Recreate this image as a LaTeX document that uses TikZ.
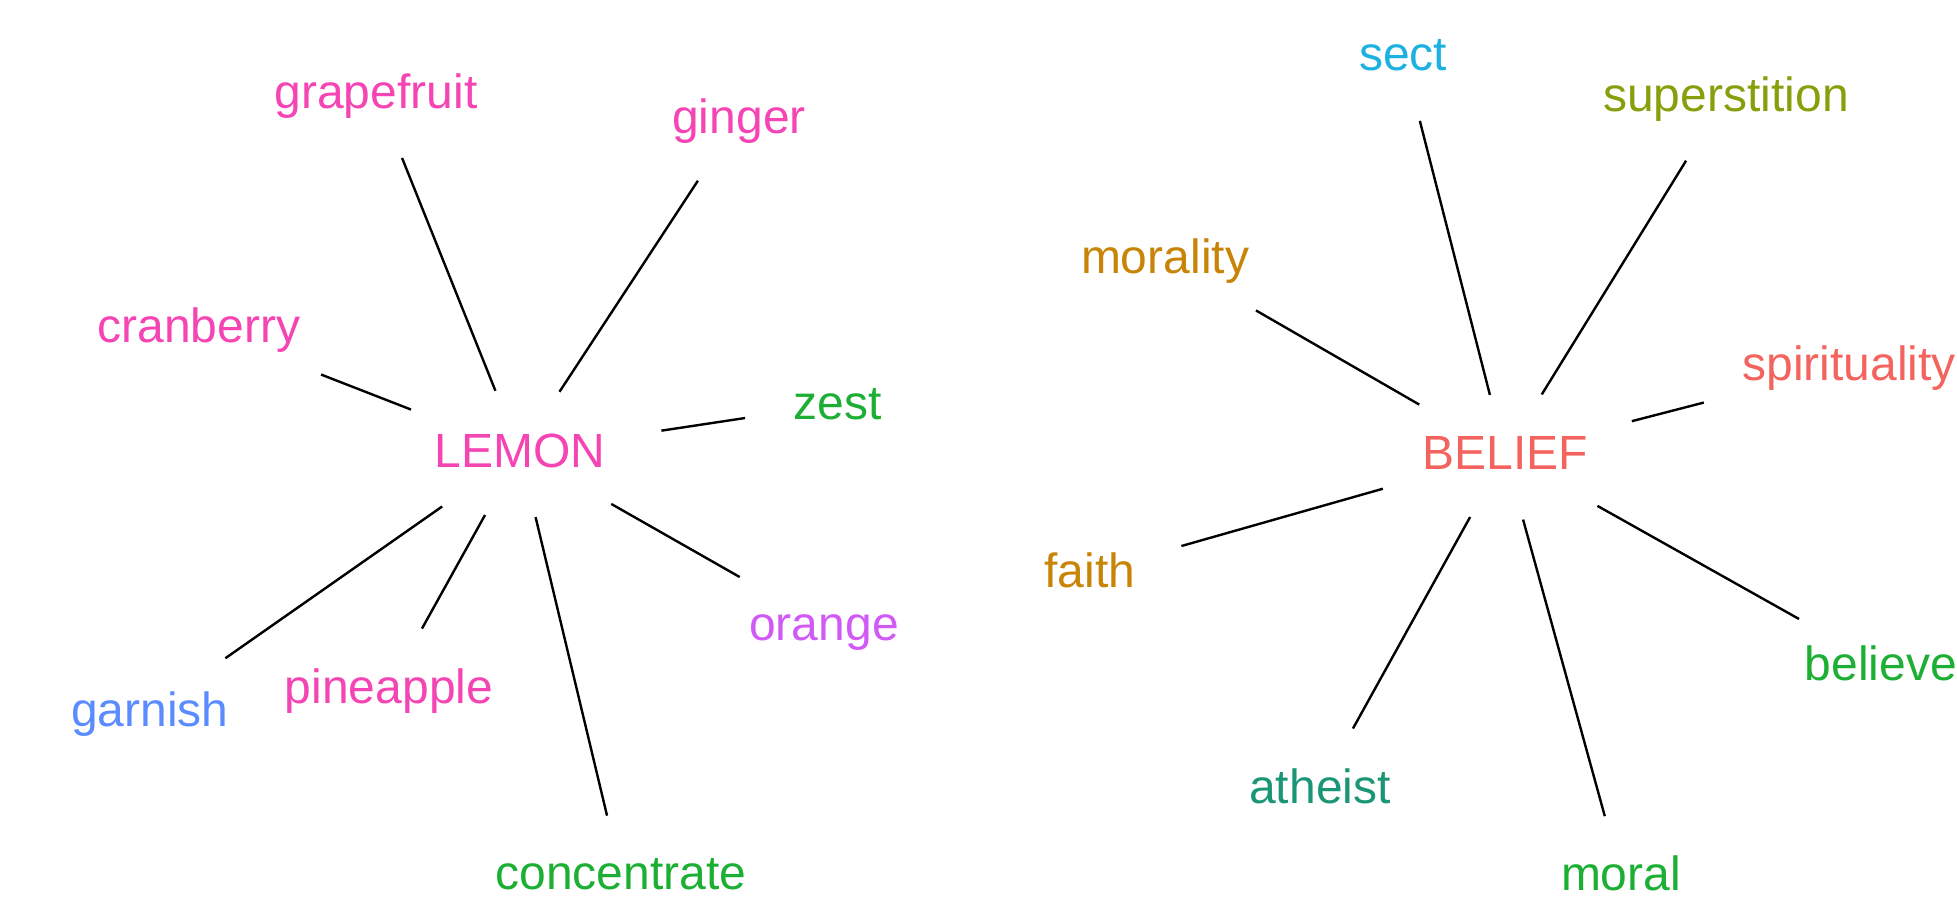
\documentclass[tikz,border=0pt]{standalone}
\usepackage{fontspec}
\setmainfont{Liberation Sans}
\definecolor{lemonpink}{HTML}{F544B3}
\definecolor{wordgreen}{HTML}{1CAF33}
\definecolor{wordpurple}{HTML}{D159F6}
\definecolor{wordblue}{HTML}{5B8CFF}
\definecolor{wordcyan}{HTML}{1DB1E2}
\definecolor{wordolive}{HTML}{879F0B}
\definecolor{wordochre}{HTML}{C78407}
\definecolor{wordsalmon}{HTML}{F4645E}
\definecolor{wordteal}{HTML}{1A9677}
\begin{document}
\begin{tikzpicture}[x=1pt, y=-1pt,
	every node/.style={inner sep=0pt, text height=35pt, text depth=5pt, font=\fontsize{48}{58}\selectfont},
	link/.style={line width=2.4pt, black}]
		\path[use as bounding box, clip] (0,0) rectangle (1957,905);
		% lemon
		\node[text=lemonpink] (lemon) at (520, 452) {LEMON};
		\node[text=lemonpink] (grapefruit) at (376, 93) {grapefruit};
		\node[text=lemonpink] (ginger) at (739, 118) {ginger};
		\node[text=lemonpink] (cranberry) at (199, 327) {cranberry};
		\node[text=wordgreen] (zest) at (838, 404) {zest};
		\node[text=wordpurple] (orange) at (824, 625) {orange};
		\node[text=lemonpink] (pineapple) at (389, 688) {pineapple};
		\node[text=wordblue] (garnish) at (150, 711) {garnish};
		\node[text=wordgreen] (concentrate) at (621, 874) {concentrate};
		\draw[link, shorten <=66pt, shorten >=70pt] (lemon.center) -- (grapefruit.center);
		\draw[link, shorten <=72pt, shorten >=75pt] (lemon.center) -- (ginger.center);
		\draw[link, shorten <=117pt, shorten >=131pt] (lemon.center) -- (cranberry.center);
		\draw[link, shorten <=143pt, shorten >=94pt] (lemon.center) -- (zest.center);
		\draw[link, shorten <=105pt, shorten >=97pt] (lemon.center) -- (orange.center);
		\draw[link, shorten <=72pt, shorten >=68pt] (lemon.center) -- (pineapple.center);
		\draw[link, shorten <=95pt, shorten >=92pt] (lemon.center) -- (garnish.center);
		\draw[link, shorten <=67pt, shorten >=60pt] (lemon.center) -- (concentrate.center);
		% belief
		\node[text=wordsalmon] (belief) at (1505, 454) {BELIEF};
		\node[text=wordcyan] (sect) at (1403, 55) {sect};
		\node[text=wordolive] (superstition) at (1726, 96) {superstition};
		\node[text=wordochre] (morality) at (1165, 258) {morality};
		\node[text=wordsalmon] (spirituality) at (1849, 365) {spirituality};
		\node[text=wordochre] (faith) at (1090, 572) {faith};
		\node[text=wordteal] (atheist) at (1320, 788) {atheist};
		\node[text=wordgreen] (moral) at (1621, 875) {moral};
		\node[text=wordgreen] (believe) at (1881, 665) {believe};
		\draw[link, shorten <=61pt, shorten >=68pt] (belief.center) -- (sect.center);
		\draw[link, shorten <=70pt, shorten >=76pt] (belief.center) -- (superstition.center);
		\draw[link, shorten <=99pt, shorten >=105pt] (belief.center) -- (morality.center);
		\draw[link, shorten <=131pt, shorten >=150pt] (belief.center) -- (spirituality.center);
		\draw[link, shorten <=127pt, shorten >=95pt] (belief.center) -- (faith.center);
		\draw[link, shorten <=72pt, shorten >=68pt] (belief.center) -- (atheist.center);
		\draw[link, shorten <=68pt, shorten >=61pt] (belief.center) -- (moral.center);
		\draw[link, shorten <=106pt, shorten >=94pt] (belief.center) -- (believe.center);
	\end{tikzpicture}
\end{document}
